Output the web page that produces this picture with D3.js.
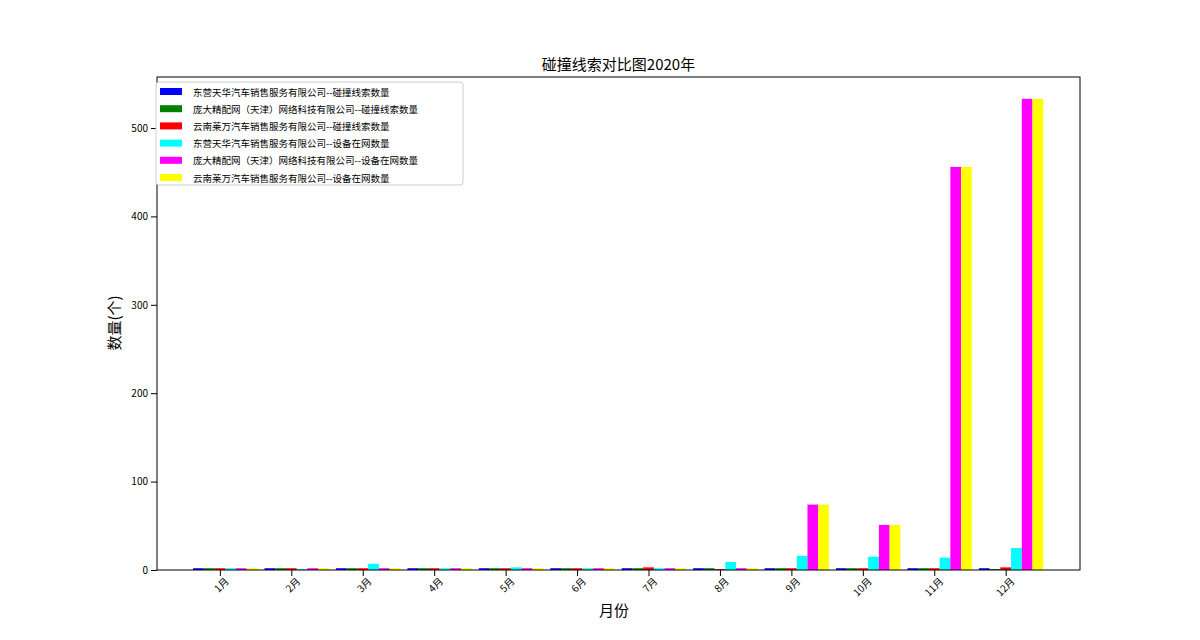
<!DOCTYPE html><html><head><meta charset="utf-8">
<script src="https://cdn.jsdelivr.net/npm/d3@7"></script>
<style>body{margin:0;background:#fff}text{font-family:"Noto Sans CJK SC",sans-serif}</style></head><body>
<svg id="c" width="1200" height="640"></svg>
<script>
const months=["1月","2月","3月","4月","5月","6月","7月","8月","9月","10月","11月","12月"];
const seriesNames=["东营天华汽车销售服务有限公司--碰撞线索数量","庞大精配网（天津）网络科技有限公司--碰撞线索数量","云南莱万汽车销售服务有限公司--碰撞线索数量","东营天华汽车销售服务有限公司--设备在网数量","庞大精配网（天津）网络科技有限公司--设备在网数量","云南莱万汽车销售服务有限公司--设备在网数量"];
const colors=["#0000ff","#008000","#ff0000","#00ffff","#ff00ff","#ffff00"];
const s1=[2,2,2,2,2,2,2,2,2,2,2,2];
const s2=[2,2,2,2,2,2,2,2,2,2,2,1];
const s3=[2,2,2,2,2,2,3,1,2,2,2,3];
const s4=[2,1,7,2,3,2,2,9,16,15,14,25];
const s5=[2,2,2,2,2,2,2,2,74,51,456,533];
const s6=[2,2,2,2,2,2,2,2,74,51,456,533];
const yTicks=[0,100,200,300,400,500];
const series=[s1,s2,s3,s4,s5,s6];
const svg=d3.select("#c");
const L=157,R=1080,T=77,B=570,w=0.15;
const x=d3.scaleLinear().domain([-0.88,12.04]).range([L,R]);
const y=d3.scaleLinear().domain([0,557.7]).range([B,T]);
series.forEach((s,k)=>{svg.append("g").selectAll("rect").data(s).join("rect")
 .attr("x",(d,i)=>x(i+(k-2.5)*w)).attr("width",x(w)-x(0)).attr("y",d=>y(d)).attr("height",d=>y(0)-y(d)).attr("fill",colors[k]);});
const ax=svg.append("g").attr("transform",`translate(0,${B})`).call(d3.axisBottom(x).tickValues(d3.range(12)).tickFormat(i=>months[i]).tickSizeOuter(0));
ax.selectAll("text").attr("font-size",10).attr("text-anchor","end").attr("dx","-2").attr("dy","6").attr("transform","rotate(-45)");
const ay=svg.append("g").attr("transform",`translate(${L},0)`).call(d3.axisLeft(y).tickValues(yTicks).tickSizeOuter(0));
ay.selectAll("text").attr("font-size",10);
svg.selectAll(".domain").remove();
svg.append("rect").attr("x",L).attr("y",T).attr("width",R-L).attr("height",B-T).attr("fill","none").attr("stroke","#000");
svg.append("text").attr("x",(L+R)/2).attr("y",70).attr("text-anchor","middle").attr("font-size",15).text("碰撞线索对比图2020年");
svg.append("text").attr("x",614).attr("y",616).attr("text-anchor","middle").attr("font-size",15).text("月份");
svg.append("text").attr("transform","translate(120,323) rotate(-90)").attr("text-anchor","middle").attr("font-size",15).text("数量(个)");
const lg=svg.append("g");
lg.append("rect").attr("x",156).attr("y",82).attr("width",307).attr("height",103).attr("rx",3).attr("fill","#fff").attr("stroke","#ccc");
seriesNames.forEach((n,k)=>{const yy=92+k*17.2;
 lg.append("rect").attr("x",160).attr("y",yy-4).attr("width",22).attr("height",7).attr("fill",colors[k]);
 lg.append("text").attr("x",193).attr("y",yy+3.5).attr("font-size",9.5).text(n);});
</script></body></html>
